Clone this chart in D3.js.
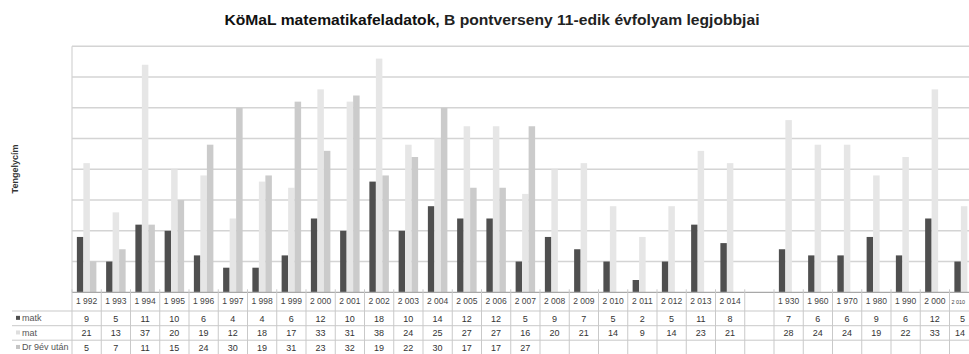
<!DOCTYPE html>
<html>
<head>
<meta charset="utf-8">
<script src="https://cdn.jsdelivr.net/npm/d3@7"></script>
<style>
  html, body { margin: 0; padding: 0; background: #fff; }
  svg { display: block; font-family: "Liberation Sans", Arial, sans-serif; }
</style>
</head>
<body>
<svg id="chart" width="969" height="354"></svg>
<script>
// Categories: years of the competition, a gap column, then decade markers
const categories = ["1 992","1 993","1 994","1 995","1 996","1 997","1 998","1 999","2 000","2 001",
  "2 002","2 003","2 004","2 005","2 006","2 007","2 008","2 009","2 010","2 011","2 012","2 013","2 014",
  "", "1 930","1 960","1 970","1 980","1 990","2 000","2 010"];

const matk = [9,5,11,10,6,4,4,6,12,10,18,10,14,12,12,5,9,7,5,2,5,11,8,null,7,6,6,9,6,12,5];
const mat  = [21,13,37,20,19,12,18,17,33,31,38,24,25,27,27,16,20,21,14,9,14,23,21,null,28,24,24,19,22,33,14];
const drUtan = [5,7,11,15,24,30,19,31,23,32,19,22,30,17,17,27,
  null,null,null,null,null,null,null,null,null,null,null,null,null,null,null];

const seriesNames = ["matk", "mat", "Dr 9év után"];
const yTicks = [0,5,10,15,20,25,30,35,40];

const series = [
  { name: seriesNames[0], values: matk,   color: "#4f4f4f" },
  { name: seriesNames[1], values: mat,    color: "#e6e6e6" },
  { name: seriesNames[2], values: drUtan, color: "#cbcbcb" }
];

const W = 969;
const svg = d3.select("#chart");
const plotLeft = 72, plotTop = 46.3, plotBottom = 292.3;
const step = 29.25;
const plotRight = plotLeft + step * categories.length;

const x = d3.scaleBand().domain(d3.range(categories.length)).range([plotLeft, plotRight]).padding(0);
const xs = d3.scaleBand().domain(d3.range(series.length)).range([0, x.bandwidth()])
  .paddingInner(0).paddingOuter(0.75);
const y = d3.scaleLinear().domain([0, 40]).range([plotBottom, plotTop]);

// Centre a cell text in its column; shrink it if the page edge would cut it
function placeCell(sel) {
  sel.each(function(d, i) {
    const t = d3.select(this);
    const cx = x(i) + x.bandwidth() / 2;
    let w = this.getComputedTextLength();
    if (cx + w / 2 <= W - 4) { t.attr("x", cx); return; }
    const left = x(i) + 2, right = W - 4;
    const fs = parseFloat(t.attr("font-size"));
    if (w > right - left) {
      t.attr("font-size", fs * (right - left) / w);
      w = this.getComputedTextLength();
    }
    t.attr("text-anchor", "start").attr("x", right - w);
  });
}

// Title
const title = svg.append("text")
  .attr("x", 492).attr("y", 25).attr("text-anchor", "middle")
  .attr("font-size", 14).attr("fill", "#111");
title.append("tspan").attr("font-weight", "bold").text("KöMaL matematikafeladatok, ");
title.append("tspan").attr("font-weight", "bold").attr("fill", "#222").text("B pontverseny 11-edik évfolyam legjobbjai");
title.attr("textLength", 535).attr("lengthAdjust", "spacingAndGlyphs");

// Horizontal gridlines
svg.append("g").selectAll("line").data(yTicks.slice(1)).join("line")
  .attr("x1", plotLeft).attr("x2", plotRight)
  .attr("y1", d => y(d)).attr("y2", d => y(d))
  .attr("stroke", "#d4d4d4").attr("stroke-width", 1.6);

// Left border of the plot area
svg.append("line").attr("x1", plotLeft).attr("x2", plotLeft)
  .attr("y1", plotTop).attr("y2", plotBottom)
  .attr("stroke", "#d4d4d4").attr("stroke-width", 1.2);

// Bars
series.forEach((s, si) => {
  svg.append("g").selectAll("rect")
    .data(s.values.map((v, i) => ({ v, i })).filter(d => d.v != null))
    .join("rect")
    .attr("x", d => x(d.i) + xs(si))
    .attr("width", xs.bandwidth())
    .attr("y", d => y(d.v))
    .attr("height", d => y(0) - y(d.v))
    .attr("fill", s.color);
});

// Axis title
svg.append("text")
  .attr("transform", `translate(18,169) rotate(-90)`)
  .attr("text-anchor", "middle")
  .attr("font-size", 9).attr("font-weight", "bold").attr("fill", "#333")
  .text("Tengelycím");

// Data table below the plot
const rowEdges = [plotBottom, 311, 325.7, 340.2, 354.7];
const tableColor = "#c9c9c9";
const table = svg.append("g");

// Baseline (category axis)
table.append("line").attr("x1", plotLeft).attr("x2", plotRight)
  .attr("y1", plotBottom).attr("y2", plotBottom)
  .attr("stroke", "#a8a8a8").attr("stroke-width", 1.2);

// Row separators
table.selectAll("line.row").data(rowEdges.slice(1)).join("line")
  .attr("class", "row")
  .attr("x1", 12).attr("x2", plotRight)
  .attr("y1", d => d).attr("y2", d => d)
  .attr("stroke", tableColor).attr("stroke-width", 1);

// Column separators
table.selectAll("line.col").data(d3.range(categories.length + 1)).join("line")
  .attr("class", "col")
  .attr("x1", i => plotLeft + i * step).attr("x2", i => plotLeft + i * step)
  .attr("y1", plotBottom - 3).attr("y2", 354)
  .attr("stroke", tableColor).attr("stroke-width", 1);

// Year labels
table.selectAll("text.cat").data(categories).join("text")
  .attr("class", "cat")
  .attr("y", 304)
  .attr("text-anchor", "middle")
  .attr("font-size", 8.5).attr("fill", "#444")
  .text(d => d)
  .call(placeCell);

// Series rows: legend key, name and values
series.forEach((s, si) => {
  const cy = (rowEdges[si + 1] + rowEdges[si + 2]) / 2;
  table.append("rect")
    .attr("x", 16).attr("y", cy - 2.5).attr("width", 4).attr("height", 4)
    .attr("fill", si === 0 ? s.color : (si === 1 ? "#dedede" : "#c4c4c4"));
  table.append("text")
    .attr("x", 22).attr("y", cy + 3)
    .attr("font-size", 9).attr("fill", "#555")
    .text(s.name);
  table.append("g").selectAll("text").data(s.values).join("text")
    .attr("y", cy + 3.3)
    .attr("text-anchor", "middle")
    .attr("font-size", 9).attr("fill", "#333")
    .text(d => d == null ? "" : d)
    .call(placeCell);
});
</script>
</body>
</html>
